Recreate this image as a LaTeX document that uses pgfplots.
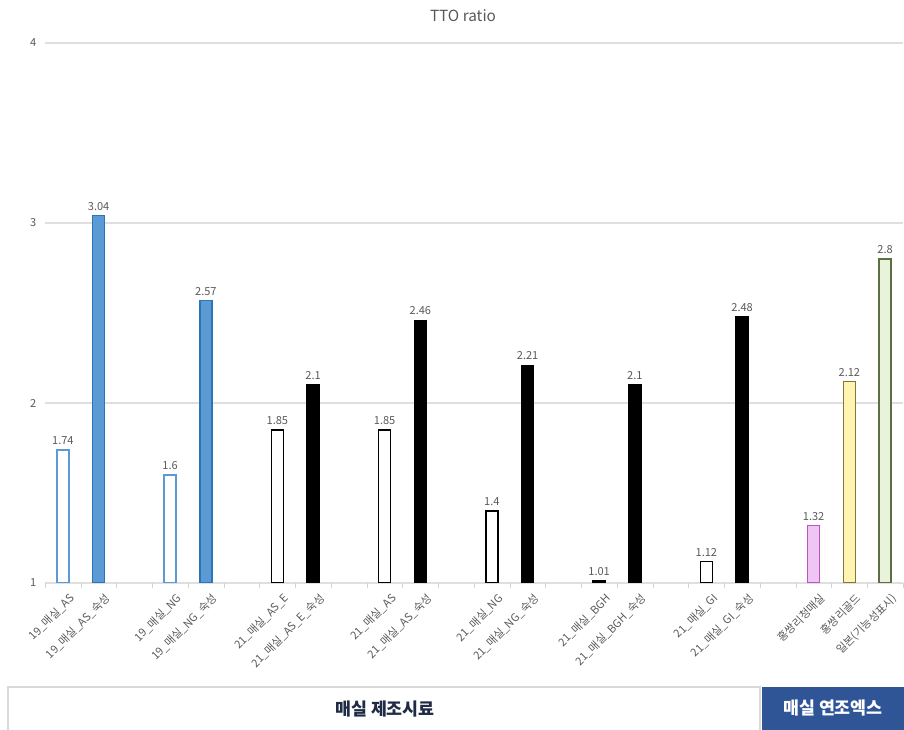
\documentclass[border=0pt]{standalone}
\usepackage{fontspec}
\setmainfont{Noto Sans CJK KR}
\usepackage{pgfplots}
\pgfplotsset{compat=1.18}
\definecolor{bl}{HTML}{5B9BD5}
\definecolor{bld}{HTML}{2E75B6}
\definecolor{pkf}{HTML}{EEC5F3}
\definecolor{pkl}{HTML}{B955C6}
\definecolor{ylf}{HTML}{FFF5B0}
\definecolor{yll}{HTML}{7F7640}
\definecolor{grf}{HTML}{E8F3DA}
\definecolor{grl}{HTML}{5C6E45}
\definecolor{txt}{HTML}{595959}
\definecolor{navy}{HTML}{2F5597}
\definecolor{dnavy}{HTML}{1F2A44}
\begin{document}
\begin{tikzpicture}
\useasboundingbox (0pt,0pt) rectangle (678pt,547.5pt);
\begin{axis}[
  at={(33.75pt,110.25pt)}, anchor=south west,
  scale only axis, width=643.5pt, height=405pt,
  xmin=-0.5, xmax=23.5, ymin=1, ymax=4,
  ytick={1,2,3,4},
  ymajorgrids, grid style={gray!25, line width=0.8pt},
  axis line style={draw=none},
  tick pos=left,
  major tick length=0pt,
  minor xtick={-0.5,0.5,...,23.5},
  minor tick length=3.5pt, tick align=outside,
  minor tick style={gray!35},
  xtick={0,1,3,4,6,7,9,10,12,13,15,16,18,19,21,22,23},
  xticklabels={19\_매실\_AS,19\_매실\_AS\_숙성,19\_매실\_NG,19\_매실\_NG\_숙성,21\_매실\_AS\_E,21\_매실\_AS\_E\_숙성,21\_매실\_AS,21\_매실\_AS\_숙성,21\_매실\_NG,21\_매실\_NG\_숙성,21\_매실\_BGH,21\_매실\_BGH\_숙성,21\_매실\_GI,21\_매실\_GI\_숙성,홍쌍리청매실,홍쌍리골드,일본(기능성표시)},
  xticklabel style={rotate=45, anchor=north east, font=\fontsize{8.3}{9}\selectfont, text=txt, inner sep=1pt, yshift=-7pt, xshift=-1pt},
  yticklabel style={font=\fontsize{8.3}{9}\selectfont, text=txt, xshift=-3pt},
  /pgf/number format/assume math mode=true,
  ybar, bar width=9pt,
  point meta=explicit symbolic,
  nodes near coords,
  nodes near coords style={font=\fontsize{8.3}{9}\selectfont, text=txt},
]
\addplot[bar shift=0pt, draw=bl, fill=white, line width=1.1pt] coordinates {(0,1.74) [1.74] (3,1.6) [1.6]};
\addplot[bar shift=0pt, draw=bld, fill=bl, line width=1pt] coordinates {(1,3.04) [3.04] (4,2.57) [2.57]};
\addplot[bar shift=0pt, draw=black, fill=white, line width=1.1pt] coordinates {(6,1.85) [1.85] (9,1.85) [1.85] (12,1.4) [1.4] (15,1.01) [1.01] (18,1.12) [1.12]};
\addplot[bar shift=0pt, draw=black, fill=black, line width=1pt] coordinates {(7,2.1) [2.1] (10,2.46) [2.46] (13,2.21) [2.21] (16,2.1) [2.1] (19,2.48) [2.48]};
\addplot[bar shift=0pt, draw=pkl, fill=pkf, line width=1pt] coordinates {(21,1.32) [1.32]};
\addplot[bar shift=0pt, draw=yll, fill=ylf, line width=1pt] coordinates {(22,2.12) [2.12]};
\addplot[bar shift=0pt, draw=grl, fill=grf, line width=1pt] coordinates {(23,2.8) [2.8]};
\end{axis}
\begin{scope}[x=0.75pt,y=0.75pt]
\node[text=txt, font=\fontsize{11.5}{13}\selectfont] at (463,714) {TTO ratio};
\draw[gray!30, line width=0.8pt, fill=white] (8,-2) rectangle (760,43);
\node[text=dnavy, font=\fontsize{13}{15}\selectfont\bfseries] at (385,21) {매실 제조시료};
\fill[navy] (762,0) rectangle (904,43);
\node[text=white, font=\fontsize{13}{15}\selectfont\bfseries] at (833,22) {매실 연조엑스};
\end{scope}
\end{tikzpicture}
\end{document}
